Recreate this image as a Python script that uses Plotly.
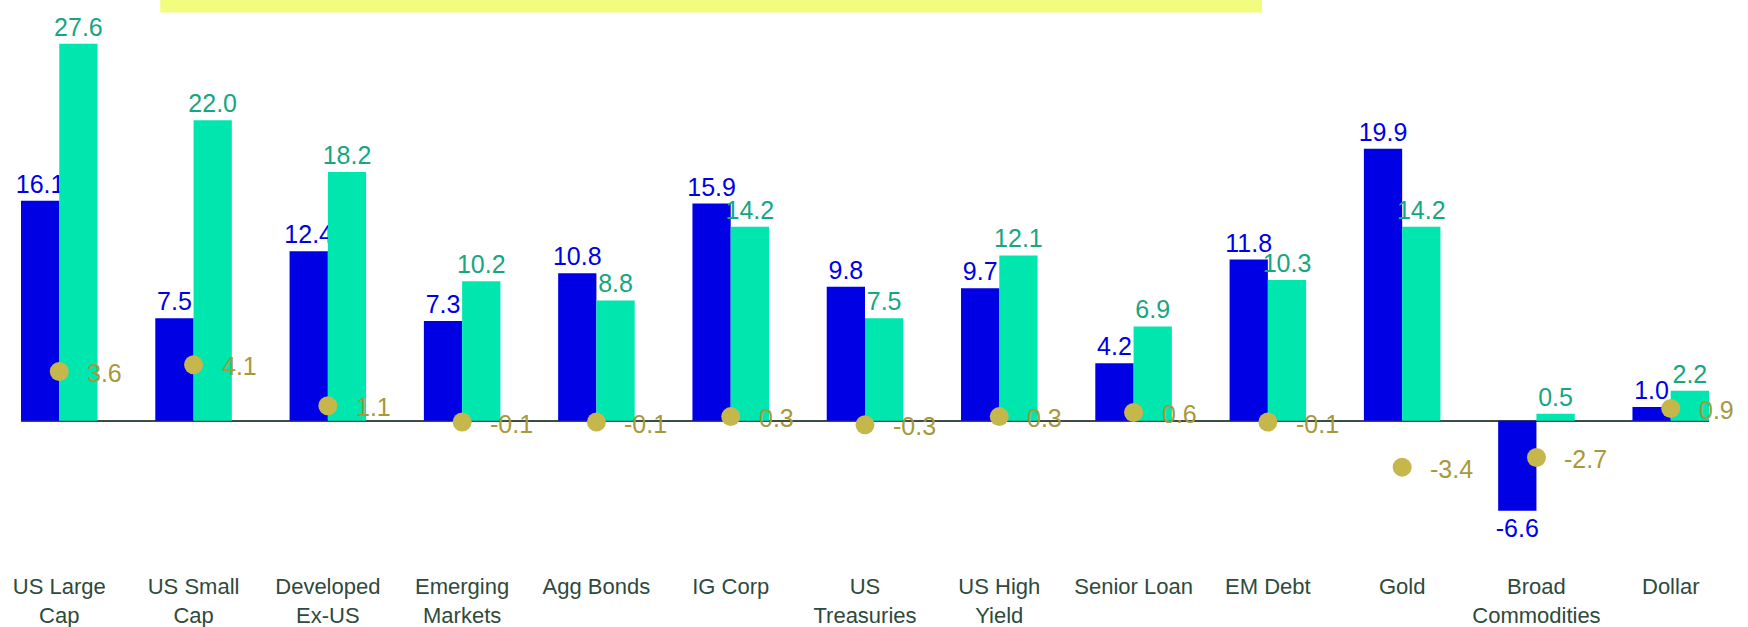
import plotly.graph_objects as go

categories = ["US Large<br>Cap", "US Small<br>Cap", "Developed<br>Ex-US", "Emerging<br>Markets",
              "Agg Bonds", "IG Corp", "US<br>Treasuries", "US High<br>Yield", "Senior Loan",
              "EM Debt", "Gold", "Broad<br>Commodities", "Dollar"]
series_blue = [16.1, 7.5, 12.4, 7.3, 10.8, 15.9, 9.8, 9.7, 4.2, 11.8, 19.9, -6.6, 1.0]
series_green = [27.6, 22.0, 18.2, 10.2, 8.8, 14.2, 7.5, 12.1, 6.9, 10.3, 14.2, 0.5, 2.2]
series_dots = [3.6, 4.1, 1.1, -0.1, -0.1, 0.3, -0.3, 0.3, 0.6, -0.1, -3.4, -2.7, 0.9]

BLUE = "#0000E4"
GREEN = "#00E6AF"
GREEN_TXT = "#17A682"
DOT = "#C5B74B"
DOT_TXT = "#A8983C"
FONT = "Arial, Liberation Sans, sans-serif"
LBL = 25

fig = go.Figure()
fig.add_trace(go.Bar(
    x=categories, y=series_blue, name="Series 1",
    marker=dict(color=BLUE, line=dict(width=0)),
    texttemplate="%{y:.1f}", textposition="outside", constraintext="none",
    cliponaxis=False,
    textfont=dict(color=BLUE, size=LBL, family=FONT),
))
fig.add_trace(go.Bar(
    x=categories, y=series_green, name="Series 2",
    marker=dict(color=GREEN, line=dict(width=0)),
    texttemplate="%{y:.1f}", textposition="outside", constraintext="none",
    cliponaxis=False,
    textfont=dict(color=GREEN_TXT, size=LBL, family=FONT),
))
fig.add_trace(go.Scatter(
    x=categories, y=series_dots, name="Series 3", mode="markers",
    marker=dict(color=DOT, size=19),
    cliponaxis=False,
))

annotations = [
    dict(x=c, y=v, xref="x", yref="y", text=f"{v:.1f}", showarrow=False,
         xanchor="left", yanchor="middle", xshift=26, yshift=-1.5,
         font=dict(color=DOT_TXT, size=LBL, family=FONT))
    for c, v in zip(categories, series_dots)
]

PLOT_TOP = 0
PLOT_BOTTOM = 571
ZERO_PX = 420.7
PX_PER_UNIT = 13.66
y_top = (ZERO_PX - PLOT_TOP) / PX_PER_UNIT
y_bot = -(PLOT_BOTTOM - ZERO_PX) / PX_PER_UNIT

left, right = 20.7, 1709.0
W, H = 1748, 627
fig.update_layout(
    width=W, height=H,
    margin=dict(l=left, r=W - right, t=PLOT_TOP, b=H - PLOT_BOTTOM, pad=0, autoexpand=False),
    paper_bgcolor="white", plot_bgcolor="white",
    barmode="group", bargap=0.43, bargroupgap=0,
    showlegend=False,
    font=dict(family=FONT),
    xaxis=dict(
        range=[-0.285, 12.285], showgrid=False, showline=False, ticks="", automargin=False,
        tickfont=dict(size=22, color="#2E4A3C", family=FONT), tickangle=0,
    ),
    yaxis=dict(
        range=[y_bot, y_top], showgrid=False, showticklabels=False, ticks="", automargin=False,
        zeroline=True, zerolinecolor="#3B4D45", zerolinewidth=1.5, showline=False,
    ),
    annotations=annotations,
    shapes=[dict(
        type="rect", xref="paper", yref="paper", layer="below",
        x0=(160 - left) / (right - left), x1=(1262 - left) / (right - left),
        y0=1 - 12.5 / (PLOT_BOTTOM - PLOT_TOP), y1=1.0,
        fillcolor="#F2FD80", line=dict(width=0),
    )],
)

fig.write_html(
    "out.html",
    config={"displayModeBar": False},
    post_script="document.body.style.margin='0';document.body.style.overflow='hidden';",
)
